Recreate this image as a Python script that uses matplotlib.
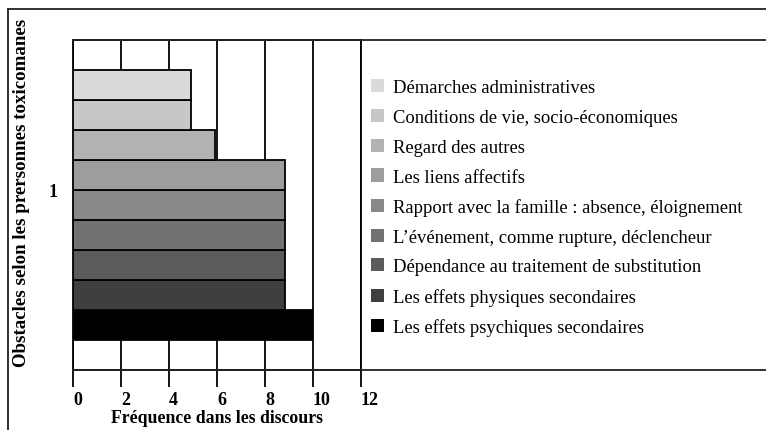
import matplotlib
matplotlib.use("Agg")
import matplotlib.pyplot as plt
from matplotlib.lines import Line2D
from matplotlib.patches import Patch

plt.rcParams["font.family"] = ["Liberation Serif", "DejaVu Serif"]

# obstacles, listed from bottom bar to top bar
obstacles = [
    "Les effets psychiques secondaires",
    "Les effets physiques secondaires",
    "Dépendance au traitement de substitution",
    "L\u2019événement, comme rupture, déclencheur",
    "Rapport avec la famille : absence, éloignement",
    "Les liens affectifs",
    "Regard des autres",
    "Conditions de vie, socio-économiques",
    "Démarches administratives",
]
frequences = [9.95, 8.85, 8.85, 8.85, 8.85, 8.85, 5.9, 4.9, 4.9]
gris = ["#000000", "#3f3f41", "#5b5b5d", "#717274", "#87888a",
        "#9c9d9f", "#b1b2b4", "#c6c7c8", "#d9dadb"]
x_ticks = [0, 2, 4, 6, 8, 10, 12]
categorie = "1"

W, H = 766, 431
fig = plt.figure(figsize=(W / 100, H / 100), dpi=100)
ax = fig.add_axes([73 / W, 1 - 371 / H, (361 - 73) / W, (371 - 41) / H])

pos = list(range(len(obstacles)))
ax.barh(pos, frequences, height=1.0, color=gris, edgecolor="black",
        linewidth=1.3, zorder=3)

ax.set_xlim(0, 12)
ax.set_ylim(-1.5, len(obstacles) + 0.5)
ax.set_xticks(x_ticks)
ax.set_xticklabels([str(t) for t in x_ticks], fontsize=13, fontweight="bold",
                   ha="left")
ax.set_yticks([4.5])
ax.set_yticklabels([categorie], fontsize=13, fontweight="bold")
ax.tick_params(axis="x", direction="out", length=12, width=1.3, pad=3)
ax.tick_params(axis="y", length=0, pad=11)
ax.grid(axis="x", color="black", linewidth=1.3, zorder=0)
ax.set_axisbelow(True)
for sp in ax.spines.values():
    sp.set_linewidth(1.3)

ax.set_xlabel("Fréquence dans les discours", fontsize=12.8, fontweight="bold",
              labelpad=1)
fig.text(22 / W, 1 - 193 / H, "Obstacles selon les prersonnes toxicomanes",
         rotation=90, ha="center", va="center", fontsize=13.6, fontweight="bold")

# lines of the surrounding frame
for (x0, y0, x1, y1) in [(8, 10, W, 10), (8, 10, 8, H), (73, 41, W, 41),
                         (73, 371, W, 371)]:
    fig.add_artist(Line2D([x0 / W, x1 / W], [1 - y0 / H, 1 - y1 / H],
                          transform=fig.transFigure, color="#222222", lw=1.3))

handles = [Patch(facecolor=c, edgecolor="none") for c in gris[::-1]]
fig.legend(handles, obstacles[::-1], loc="upper left",
           bbox_to_anchor=(364 / W, 1 - 73 / H), frameon=False,
           fontsize=13.4, handlelength=0.7, handleheight=0.7,
           handletextpad=0.45, labelspacing=0.68, borderaxespad=0)

fig.savefig("out.png", dpi=100)
